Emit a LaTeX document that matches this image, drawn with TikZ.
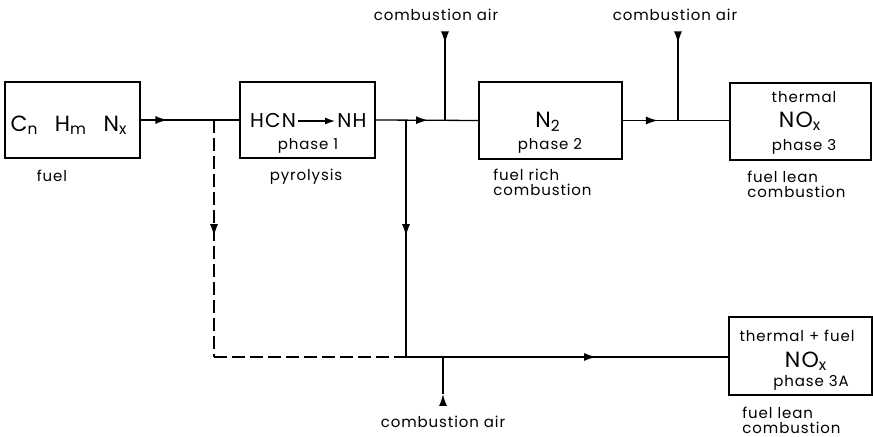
\documentclass[tikz,border=0pt]{standalone}
\usepackage{fontspec}
\setmainfont{Poppins}[LetterSpace=6]
\usetikzlibrary{arrows.meta, positioning, decorations.markings}

\tikzset{
  phasebox/.style={draw, line width=0.9pt, inner sep=0pt},
  flow/.style={line width=0.65pt},
  airflow/.style={line width=0.65pt},
  midtip/.style={decoration={markings,
      mark=at position #1 with {\arrow{Latex[length=6pt,width=4pt]}}},
    postaction={decorate}},
  smalltext/.style={font=\fontsize{7.5}{7.5}\selectfont, inner sep=1pt},
  bigtext/.style={font=\fontsize{11}{13}\selectfont, inner sep=1pt},
  midtext/.style={font=\fontsize{10}{12}\selectfont, inner sep=1pt},
}

\begin{document}
\begin{tikzpicture}[x=0.5pt, y=-0.5pt]
\useasboundingbox (0,0) rectangle (873,437);

% ============= boxes of the four phases =============
\node[phasebox, minimum width=67.5pt, minimum height=38pt] (fuel)  at (72.5,120)  {};
\node[phasebox, minimum width=67.5pt, minimum height=38pt] (pyro)  at (307.5,120) {};
\node[phasebox, minimum width=71.5pt, minimum height=38.5pt] (rich) at (550.5,120.5) {};
\node[phasebox, minimum width=70.5pt, minimum height=38.5pt] (lean) at (800.5,121.5) {};
\node[phasebox, minimum width=71.5pt, minimum height=39pt] (leanA) at (800.5,356) {};

% --- texts inside the boxes ---
\node[bigtext] (cnhm) at (69,125)
  {C\textsubscript{n}\hspace{0.75em}H\textsubscript{m}\hspace{0.75em}N\textsubscript{x}};
\node[midtext] (hcn) at (273,121) {HCN};
\node[midtext] (nh)  at (352,121) {NH};
\draw[flow, -{Latex[length=5pt,width=3.5pt]}] (hcn) -- (nh);
\node[smalltext] (ph1) at (308,146) {phase 1};
\node[bigtext] (ntwo) at (548,122) {N\textsubscript{2}};
\node[smalltext] (ph2) at (550,146) {phase 2};
\node[smalltext] (th3) at (804,97) {thermal};
\node[bigtext] (nox3) at (800,121) {NO\textsubscript{x}};
\node[smalltext] (ph3) at (804,147) {phase 3};
\node[smalltext] (th3a) at (797,336) {thermal + fuel};
\node[bigtext] (nox3a) at (806,361) {NO\textsubscript{x}};
\node[smalltext] (ph3a) at (811,383) {phase 3A};

% --- captions below the boxes ---
\node[smalltext] (fuellbl) at (52,176) {fuel};
\node[smalltext] (pyrolbl) at (306,177) {pyrolysis};
\node[smalltext, align=left, anchor=north west] (richlbl) at (491,167) {fuel rich\\combustion};
\node[smalltext, align=left, anchor=north west] (leanlbl) at (745,169) {fuel lean\\combustion};
\node[smalltext, align=left, anchor=north west] (leanAlbl) at (740,405) {fuel lean\\combustion};

% --- combustion air feeds ---
\node[smalltext] (air1) at (436,15) {combustion air};
\node[smalltext] (air2) at (675,15) {combustion air};
\node[smalltext] (air3) at (443,422) {combustion air};

% junctions
\coordinate (j1) at (214,120);
\coordinate (j2) at (406,120);
\coordinate (a1) at (445,120);
\coordinate (a2) at (678,120);
\coordinate (c1) at (214,357);
\coordinate (j3) at (406,357);
\coordinate (a3) at (443,357);
\coordinate (s1) at (445,33);
\coordinate (s2) at (678,33);
\coordinate (s3) at (443,406);
\coordinate (t3) at (443,394);

% ============= main line =============
\draw[flow, midtip=0.27] (fuel.east) -- (pyro.west);
\draw[flow, midtip=0.51] (pyro.east) -- (rich.west);
\draw[flow, midtip=0.33] (rich.east) -- (lean.west |- rich.east);
\draw[airflow, midtip=0.12] (s1) -- (a1);
\draw[airflow, midtip=0.12] (s2) -- (a2);

% ============= branch to phase 3A =============
\draw[flow, dash pattern=on 6.5pt off 2.5pt, midtip=0.49] (j1) -- (c1);
\draw[flow, dash pattern=on 6.5pt off 2.5pt] (c1) -- (j3);
\draw[flow, midtip=0.49] (j2) -- (j3);
\draw[flow, midtip=0.59] (j3) -- (leanA.west |- j3);
\draw[airflow] (t3) -- (a3);
\draw[airflow, -{Latex[length=6pt,width=4pt]}] (s3) -- (t3);
\end{tikzpicture}
\end{document}
